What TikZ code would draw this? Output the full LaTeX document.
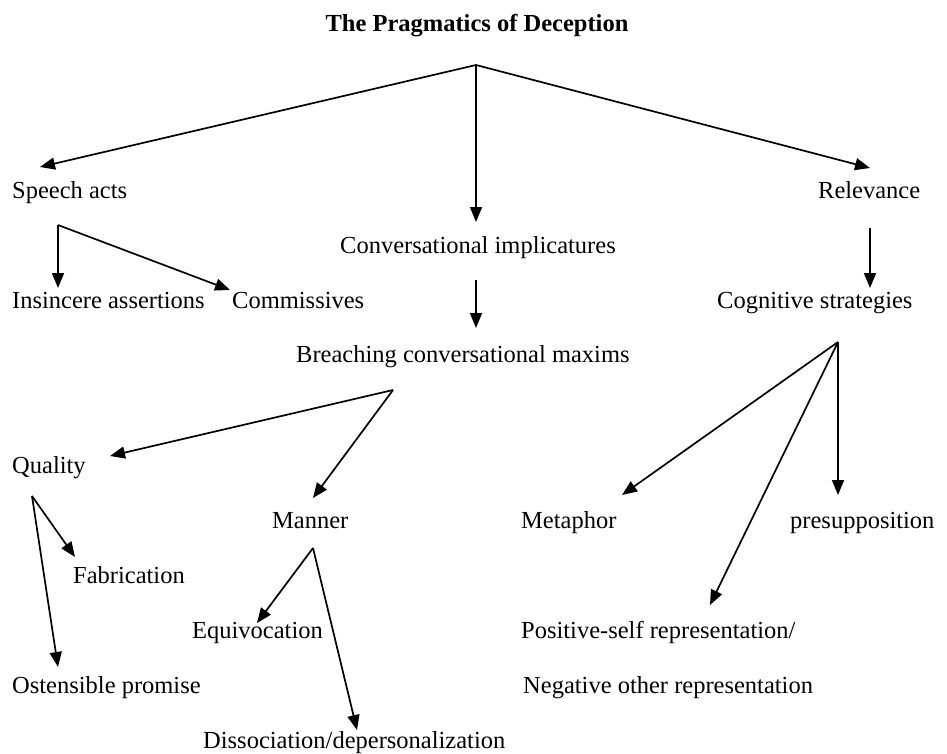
\documentclass[tikz,border=0pt]{standalone}
\usepackage{fontspec}
\setmainfont{Liberation Serif}
\usetikzlibrary{arrows.meta}

\begin{document}
\begin{tikzpicture}
  [x=1pt, y=-1pt,
   term/.style={anchor=base west, inner sep=0pt, font=\fontsize{24.5}{29}\selectfont},
   arr/.style={line width=1.7pt, -{Triangle[length=15pt,width=12pt]}}]

  \useasboundingbox (0,0) rectangle (947,754);

  \node[anchor=base, inner sep=0pt, font=\fontsize{24.5}{29}\selectfont\bfseries] (title) at (477,32) {The Pragmatics of Deception};

  % first level
  \node[term] (speech) at (12,198) {Speech acts};
  \node[term] (conv)   at (340,253) {Conversational implicatures};
  \node[term] (relev)  at (818,198) {Relevance};

  % second level
  \node[term] (insinc) at (12,308) {Insincere assertions};
  \node[term] (commis) at (232,308) {Commissives};
  \node[term] (breach) at (296,362) {Breaching conversational maxims};
  \node[term] (cogn)   at (717,308) {Cognitive strategies};

  % third level
  \node[term] (quality)  at (12,473) {Quality};
  \node[term] (manner)   at (272,528) {Manner};
  \node[term] (metaphor) at (521,528) {Metaphor};
  \node[term] (presup)   at (790,528) {presupposition};
  \node[term] (fabric)   at (73,583) {Fabrication};
  \node[term] (equiv)    at (192,638) {Equivocation};
  \node[term] (posself)  at (521,638) {Positive-self representation/};
  \node[term] (ostens)   at (12,693) {Ostensible promise};
  \node[term] (negoth)   at (523,693) {Negative other representation};
  \node[term] (dissoc)   at (203,748) {Dissociation/depersonalization};

  % fork points
  \coordinate (root)    at (476,65);
  \coordinate (saFork)  at (58,225);
  \coordinate (ciFork)  at (476,280);
  \coordinate (reFork)  at (870,228);
  \coordinate (brFork)  at (393,390);
  \coordinate (csFork)  at (838,342);
  \coordinate (quFork)  at (32,496);
  \coordinate (maFork)  at (313,548);

  % arrow tips, just above each term
  \coordinate (speechTip)   at (40,167);
  \coordinate (convTip)     at (476,222);
  \coordinate (relevTip)    at (870,168);
  \coordinate (insincTip)   at (58,288);
  \coordinate (commisTip)   at (230,290);
  \coordinate (breachTip)   at (476,328);
  \coordinate (cognTip)     at (870,288);
  \coordinate (qualityTip)  at (110,456);
  \coordinate (mannerTip)   at (313,498);
  \coordinate (metaphorTip) at (622,495);
  \coordinate (presupTip)   at (838,495);
  \coordinate (posselfTip)  at (710,605);
  \coordinate (fabricTip)   at (75,557);
  \coordinate (ostensTip)   at (58,667);
  \coordinate (equivTip)    at (257,623);
  \coordinate (dissocTip)   at (357,730);

  \foreach \from/\to in {root/speechTip,root/convTip,root/relevTip,
      saFork/insincTip,saFork/commisTip,ciFork/breachTip,reFork/cognTip,
      brFork/qualityTip,brFork/mannerTip,
      csFork/metaphorTip,csFork/presupTip,csFork/posselfTip,
      quFork/fabricTip,quFork/ostensTip,maFork/equivTip,maFork/dissocTip}
    \draw[arr] (\from) -- (\to);
\end{tikzpicture}
\end{document}
